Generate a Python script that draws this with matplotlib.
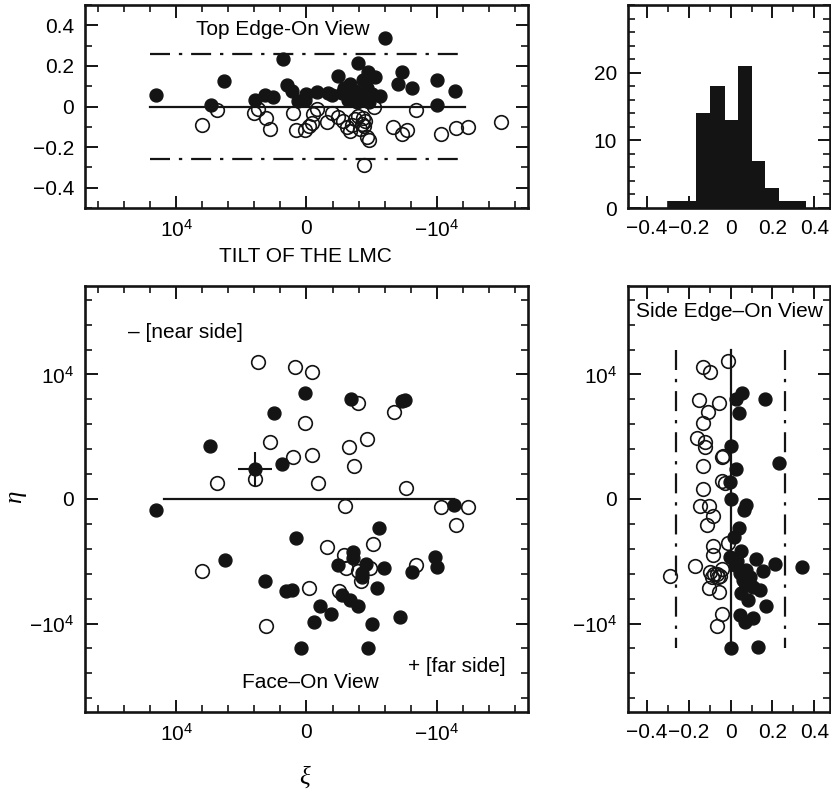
import matplotlib
matplotlib.use("Agg")
import matplotlib.pyplot as plt
from matplotlib.ticker import MultipleLocator, FixedLocator, FixedFormatter

plt.rcParams['font.family'] = ['Liberation Sans', 'DejaVu Sans']
plt.rcParams['mathtext.fontset'] = 'custom'
plt.rcParams['mathtext.rm'] = 'Liberation Sans'
plt.rcParams['mathtext.default'] = 'rm'

# top edge-on view: xi vs tilt z
top_fill_xi = [11540, 7310, 6300, 1790, -6000, 3970, 3200, 2560, 1500, 1150, 640,
               0, -770, -1670, -1920, -2440, -2690, -3330, -3720, -3970, -4360, -4740,
               -4300, -5260, -5640, -4620, -3210, -4230, -3850, -7310, -7050, -8080,
               -10000, -10000, -11400, 130, -4800, -2900, -5000]
top_fill_z = [0.058, 0.005, 0.124, 0.236, 0.338, 0.030, 0.058, 0.045, 0.104, 0.075, 0.028,
              0.062, 0.070, 0.066, 0.058, 0.152, 0.066, 0.112, 0.074, 0.212, 0.034, 0.168,
              0.130, 0.147, 0.050, 0.091, 0.034, 0.050, 0.020, 0.168, 0.110, 0.091,
              0.133, 0.005, 0.074, 0.034, 0.020, 0.090, 0.060]
top_open_xi = [8000, 6850, 4050, 3720, 3080, 2800, 1020, 770, 130, -200, -450, -770,
               -510, -1540, -1920, -2440, -2820, -3080, -3330, -3720, -3970, -4230, -4440,
               -4620, -4790, -5180, -4410, -6670, -7310, -7690, -8410, -10330, -11460,
               -12360, -14950, -4300, -4500, -3500, -4100]
top_open_z = [-0.092, -0.018, -0.034, -0.011, -0.058, -0.110, -0.031, -0.118, -0.118, -0.095,
              -0.079, -0.010, -0.039, -0.074, -0.031, -0.050, -0.070, -0.103, -0.122, -0.060,
              -0.047, -0.085, -0.095, -0.148, -0.166, 0.0, -0.286, -0.103, -0.136, -0.115,
              -0.019, -0.136, -0.108, -0.100, -0.074, -0.055, -0.070, -0.090, -0.110]

# histogram of tilt
hist_edges = [-0.30, -0.235, -0.166, -0.096, -0.028, 0.036, 0.10, 0.166, 0.232, 0.296, 0.36]
hist_counts = [1, 1, 14, 18, 13, 21, 7, 3, 1, 1]

# face-on view: xi vs eta
face_open_xi = [3700, 850, -440, -3920, -6720, 80, 2770, -4620, -3260, 1020, -460, -3640,
                6850, 3980, -850, -7640, -2950, -10330, -12360, -11490, -1560, -5130, 8000,
                -2870, -3030, -3970, -4900, -4180, -8410, -180, -2490, 3130]
face_open_eta = [11030, 10580, 10230, 7740, 7010, 6080, 4550, 4790, 4200, 3350, 3530, 2680,
                 1310, 1580, 1310, 860, -560, -620, -670, -2090, -3850, -3590, -5760,
                 -4500, -5520, -5780, -5500, -6560, -5300, -7170, -7360, -10200]
face_fill_xi = [130, -3410, -7300, -7550, 2490, 7380, 1870, 3920, 11540, -11330, 770, -5590,
                6230, 3150, 1540, 1150, -1030, -1870, -560, 440, -4740, -5000, -7180, -5380,
                -5970, -2440, -3590, -3590, -4540, -4230, -4230, -2690, -3330, -3920, -8080,
                -9870, -10000]
face_fill_eta = [8490, 8030, 7850, 7950, 6930, 4260, 2810, 2410, -880, -480, -3100, -2360,
                 -4900, -6590, -7360, -7310, -8590, -9240, -9850, -11990, -11940, -10040, -9500,
                 -7170, -5520, -5300, -4230, -4770, -5220, -5970, -6240, -7710, -8110, -8590,
                 -5840, -4630, -5490]
cross_xi, cross_eta = 3920, 2410
cross_xerr, cross_etaerr = 1300, 1400

# side edge-on view: tilt z vs eta
side_open_z = [-0.010, -0.130, -0.097, -0.149, -0.056, -0.109, -0.130, -0.162, -0.122, -0.122,
               -0.037, -0.042, -0.130, -0.042, -0.025, -0.130, -0.145, -0.101, -0.082, -0.114,
               -0.082, -0.082, -0.169, -0.290, -0.100, -0.080, -0.065, -0.050, -0.090, -0.060,
               -0.040, -0.101, -0.056, -0.040, -0.066, -0.013]
side_open_eta = [11110, 10580, 10230, 7950, 7740, 7010, 6080, 4870, 4550, 4200,
                 3450, 3350, 2680, 1470, 1300, 800, -560, -560, -1370, -2090,
                 -3780, -4500, -5350, -6150, -5900, -6050, -6000, -6150, -6250, -6300,
                 -5600, -7170, -7440, -9240, -10200, -3560]
side_fill_z = [0.056, 0.024, 0.163, 0.040, 0.003, 0.232, 0.027, -0.003, 0.0, 0.062, 0.072,
               0.040, 0.014, 0.051, -0.005, 0.123, 0.211, 0.339, 0.075, 0.043, 0.091, 0.155,
               0.067, 0.107, 0.139, 0.051, 0.083, 0.171, 0.043, 0.067, 0.107, 0.003, 0.131,
               0.020, 0.060, 0.030]
side_fill_eta = [8540, 8010, 8010, 6930, 4260, 2870, 2380, 1340, -20, -880, -480,
                 -2350, -3030, -4200, -4630, -4850, -5210, -5470, -5700, -5970, -6240, -5760,
                 -6770, -7040, -7310, -7570, -8110, -8590, -9320, -9850, -9580, -11990, -11910,
                 -5300, -6500, -5000]

ink = '#141414'
fs = 15
xi_ticks = [1e4, 0, -1e4]
xi_labels = ['$10^4$', '0', '$-10^4$']
z_ticks = [-0.4, -0.2, 0, 0.2, 0.4]
z_labels = ['\u22120.4', '\u22120.2', '0', '0.2', '0.4']


def style(ax):
    for s in ax.spines.values():
        s.set_linewidth(1.9)
        s.set_color(ink)
    ax.tick_params(which='both', direction='in', top=True, right=True,
                   color=ink, labelsize=fs, pad=8)
    ax.tick_params(which='major', length=9, width=1.4)
    ax.tick_params(which='minor', length=5, width=1.2)


fill_kw = dict(ls='none', marker='o', ms=9.3, mfc=ink, mec=ink, mew=1)
open_kw = dict(ls='none', marker='o', ms=9.8, mfc='none', mec=ink, mew=1.2)
dashdot = (0, (9, 4, 1.5, 4))

fig = plt.figure(figsize=(8.31, 7.94), dpi=100)
W, H = 831, 794


def box(x0, y0, x1, y1):
    return [x0 / W, 1 - y1 / H, (x1 - x0) / W, (y1 - y0) / H]


ax1 = fig.add_axes(box(85, 5, 528, 208))
ax2 = fig.add_axes(box(628, 5, 830, 208))
ax3 = fig.add_axes(box(85, 286, 528, 712))
ax4 = fig.add_axes(box(628, 286, 830, 712))

# top edge-on
ax1.plot([1.2e4, -1.22e4], [0, 0], color=ink, lw=1.6)
for zz in (0.26, -0.26):
    ax1.plot([1.2e4, -1.22e4], [zz, zz], color=ink, lw=1.6, ls=dashdot)
ax1.plot(top_fill_xi, top_fill_z, **fill_kw)
ax1.plot(top_open_xi, top_open_z, **open_kw)
ax1.set_xlim(1.7e4, -1.7e4)
ax1.set_ylim(-0.5, 0.5)
ax1.xaxis.set_major_locator(FixedLocator(xi_ticks))
ax1.xaxis.set_major_formatter(FixedFormatter(xi_labels))
ax1.xaxis.set_minor_locator(MultipleLocator(2000))
ax1.yaxis.set_major_locator(FixedLocator(z_ticks))
ax1.yaxis.set_major_formatter(FixedFormatter(z_labels))
ax1.yaxis.set_minor_locator(MultipleLocator(0.1))
ax1.text(0.447, 0.877, 'Top Edge-On View', transform=ax1.transAxes,
         ha='center', va='center', fontsize=fs)
style(ax1)

# histogram
ax2.stairs(hist_counts, hist_edges, fill=True, color=ink)
ax2.set_xlim(-0.49, 0.475)
ax2.set_ylim(0, 30)
ax2.xaxis.set_major_locator(FixedLocator(z_ticks))
ax2.xaxis.set_major_formatter(FixedFormatter(z_labels))
ax2.xaxis.set_minor_locator(MultipleLocator(0.1))
ax2.yaxis.set_major_locator(FixedLocator([0, 10, 20]))
ax2.yaxis.set_minor_locator(MultipleLocator(2))
style(ax2)

# face-on
ax3.plot([1.09e4, -1.13e4], [0, 0], color=ink, lw=1.6)
ax3.plot(face_fill_xi, face_fill_eta, **fill_kw)
ax3.plot(face_open_xi, face_open_eta, **open_kw)
ax3.errorbar([cross_xi], [cross_eta], xerr=[cross_xerr], yerr=[cross_etaerr],
             fmt='none', ecolor=ink, elinewidth=1.5, capsize=0)
ax3.set_xlim(1.7e4, -1.7e4)
ax3.set_ylim(-1.71e4, 1.71e4)
ax3.xaxis.set_major_locator(FixedLocator(xi_ticks))
ax3.xaxis.set_major_formatter(FixedFormatter(xi_labels))
ax3.xaxis.set_minor_locator(MultipleLocator(2000))
ax3.yaxis.set_major_locator(FixedLocator(xi_ticks))
ax3.yaxis.set_major_formatter(FixedFormatter(xi_labels))
ax3.yaxis.set_minor_locator(MultipleLocator(2000))
ax3.text(0.097, 0.892, '\u2013 [near side]', transform=ax3.transAxes,
         ha='left', va='center', fontsize=fs)
ax3.text(0.508, 0.070, 'Face\u2013On View', transform=ax3.transAxes,
         ha='center', va='center', fontsize=fs)
ax3.text(0.839, 0.106, '+ [far side]', transform=ax3.transAxes,
         ha='center', va='center', fontsize=fs)
style(ax3)

# side edge-on
ax4.plot([0, 0], [1.2e4, -1.2e4], color=ink, lw=1.6)
for zz in (0.26, -0.26):
    ax4.plot([zz, zz], [1.2e4, -1.2e4], color=ink, lw=1.6, ls=dashdot)
ax4.plot(side_fill_z, side_fill_eta, **fill_kw)
ax4.plot(side_open_z, side_open_eta, **open_kw)
ax4.set_xlim(-0.49, 0.475)
ax4.set_ylim(-1.71e4, 1.71e4)
ax4.xaxis.set_major_locator(FixedLocator(z_ticks))
ax4.xaxis.set_major_formatter(FixedFormatter(z_labels))
ax4.xaxis.set_minor_locator(MultipleLocator(0.1))
ax4.yaxis.set_major_locator(FixedLocator(xi_ticks))
ax4.yaxis.set_major_formatter(FixedFormatter(xi_labels))
ax4.yaxis.set_minor_locator(MultipleLocator(2000))
ax4.text(0.04, 0.939, 'Side Edge\u2013On View', transform=ax4.transAxes,
         ha='left', va='center', fontsize=fs)
style(ax4)

fig.text(305 / W, 1 - 256 / H, 'TILT OF THE LMC', ha='center', va='center', fontsize=fs)
fig.text(305 / W, 1 - 778 / H, '\u03be', ha='center', va='center', fontsize=18,
         family='Liberation Serif', style='italic')
fig.text(15 / W, 1 - 497 / H, '\u03b7', ha='center', va='center', fontsize=18,
         family='Liberation Serif', style='italic', rotation=90)

fig.savefig('out.png', dpi=100)
